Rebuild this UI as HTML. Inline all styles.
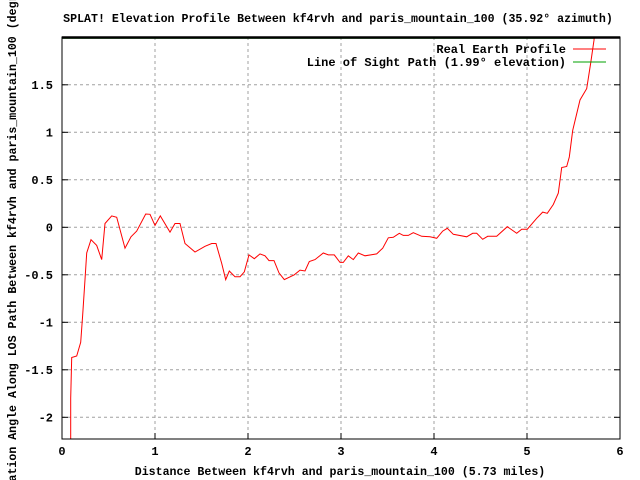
<!DOCTYPE html>
<html><head><meta charset="utf-8"><style>
html,body{margin:0;background:#fff;width:640px;height:480px;overflow:hidden}
svg{display:block}
svg text{font-family:"Liberation Mono","DejaVu Sans Mono",monospace;font-size:12px;fill:#000;font-weight:bold}
</style></head><body>
<svg id="chart" width="640" height="480" xmlns="http://www.w3.org/2000/svg">
<defs><clipPath id="pc"><rect x="62" y="37" width="558" height="402"/></clipPath></defs>
<g id="grid"></g>
<g id="ticks"></g>
<g clip-path="url(#pc)">
<line id="los" stroke="#00a000" stroke-width="1"/>
<polyline id="profile" fill="none" stroke="#ff0000" stroke-width="1"/>
</g>
<rect x="62" y="37" width="558" height="402" fill="none" stroke="#000" stroke-width="1"/>
<line x1="62" y1="37.5" x2="620" y2="37.5" stroke="#000" stroke-width="2.5"/>
<text x="338" y="22" text-anchor="middle" style="font-size:11.6px">SPLAT! Elevation Profile Between kf4rvh and paris_mountain_100 (35.92° azimuth)</text>
<text x="340" y="475" text-anchor="middle" style="font-size:11.6px">Distance Between kf4rvh and paris_mountain_100 (5.73 miles)</text>
<text transform="translate(16,238) rotate(-90)" text-anchor="middle" style="font-size:11.6px">Elevation Angle Along LOS Path Between kf4rvh and paris_mountain_100 (degrees)</text>
<g>
<text x="566" y="53" text-anchor="end">Real Earth Profile</text>
<line x1="573" y1="49" x2="606" y2="49" stroke="#ff0000"/>
<text x="566" y="66" text-anchor="end">Line of Sight Path (1.99° elevation)</text>
<line x1="573" y1="62" x2="606" y2="62" stroke="#00a000"/>
</g>
</svg>
<script>
const xTicks=[0,1,2,3,4,5,6];
const yTicks=[-2,-1.5,-1,-0.5,0,0.5,1,1.5];
const yTickLabels=["-2","-1.5","-1","-0.5","0","0.5","1","1.5"];
const losElevation=1.99;
const distances=[0.094,0.094,0.104,0.158,0.201,0.223,0.247,0.266,0.312,0.373,0.427,0.462,0.534,0.588,0.677,0.742,0.803,0.9,0.946,1.0,1.057,1.161,1.215,1.269,1.323,1.43,1.538,1.61,1.656,1.717,1.76,1.799,1.86,1.914,1.96,2.011,2.068,2.129,2.183,2.226,2.28,2.333,2.39,2.498,2.559,2.613,2.659,2.72,2.81,2.863,2.928,2.989,3.025,3.078,3.132,3.186,3.258,3.384,3.448,3.509,3.562,3.627,3.67,3.724,3.777,3.868,3.957,4.029,4.094,4.143,4.208,4.352,4.416,4.459,4.524,4.577,4.674,4.788,4.889,4.943,5.003,5.104,5.169,5.218,5.283,5.337,5.373,5.427,5.455,5.491,5.57,5.642,5.685,5.72,5.73];
const angles=[-3,-1.8,-1.37,-1.355,-1.21,-0.92,-0.55,-0.27,-0.13,-0.19,-0.34,0.04,0.12,0.105,-0.22,-0.1,-0.04,0.14,0.137,0.02,0.12,-0.05,0.04,0.04,-0.17,-0.26,-0.2,-0.17,-0.17,-0.38,-0.55,-0.46,-0.52,-0.52,-0.47,-0.29,-0.33,-0.28,-0.3,-0.35,-0.35,-0.48,-0.55,-0.5,-0.45,-0.46,-0.36,-0.34,-0.27,-0.29,-0.29,-0.37,-0.37,-0.3,-0.34,-0.27,-0.3,-0.28,-0.22,-0.11,-0.105,-0.063,-0.085,-0.085,-0.057,-0.095,-0.1,-0.116,-0.04,-0.01,-0.074,-0.1,-0.063,-0.063,-0.126,-0.095,-0.095,0.006,-0.063,-0.02,-0.02,0.095,0.16,0.147,0.24,0.36,0.63,0.64,0.74,1.02,1.34,1.46,1.73,1.97,2.1];
const L=62,R=620,T=37,B=439;
const xs=v=>L+(v-0)/6*(R-L);
const ys=v=>227.3-v*95;
const NS="http://www.w3.org/2000/svg";
const grid=document.getElementById('grid'),ticks=document.getElementById('ticks');
function mk(tag,attrs,parent){const e=document.createElementNS(NS,tag);for(const k in attrs)e.setAttribute(k,attrs[k]);parent.appendChild(e);return e;}
xTicks.forEach(v=>{
  const x=xs(v);
  if(v>0&&v<6){const g=mk('line',{x1:x,y1:T,x2:x,y2:B,stroke:'#a0a0a0','stroke-dasharray':'3,3'},grid);
  
  }
  const t=mk('line',{x1:x,y1:B,x2:x,y2:B-6,stroke:'#000'},ticks);
  
  
  const lb=mk('text',{x:x,y:B+16,'text-anchor':'middle'},ticks);
  lb.textContent=String(v);
  
  
});
yTicks.forEach((v,i)=>{
  const y=ys(v);
  const g=mk('line',{x1:L,y1:y,x2:R,y2:y,stroke:'#a0a0a0','stroke-dasharray':'3,3'},grid);
  
  
  const t=mk('line',{x1:L,y1:y,x2:L+6,y2:y,stroke:'#000'},ticks);
  
  
  const t2=mk('line',{x1:R,y1:y,x2:R-6,y2:y,stroke:'#000'},ticks);
  
  
  const lb=mk('text',{x:L-9,y:y+4,'text-anchor':'end'},ticks);
  lb.textContent=yTickLabels[i];
  
  
});
document.getElementById('profile').setAttribute('points',distances.map((d,i)=>xs(d).toFixed(1)+','+ys(angles[i]).toFixed(1)).join(' '));
const los=document.getElementById('los');
los.setAttribute('x1',xs(0));los.setAttribute('x2',xs(5.73));
los.setAttribute('y1',ys(losElevation));los.setAttribute('y2',ys(losElevation));
</script>
</body></html>
